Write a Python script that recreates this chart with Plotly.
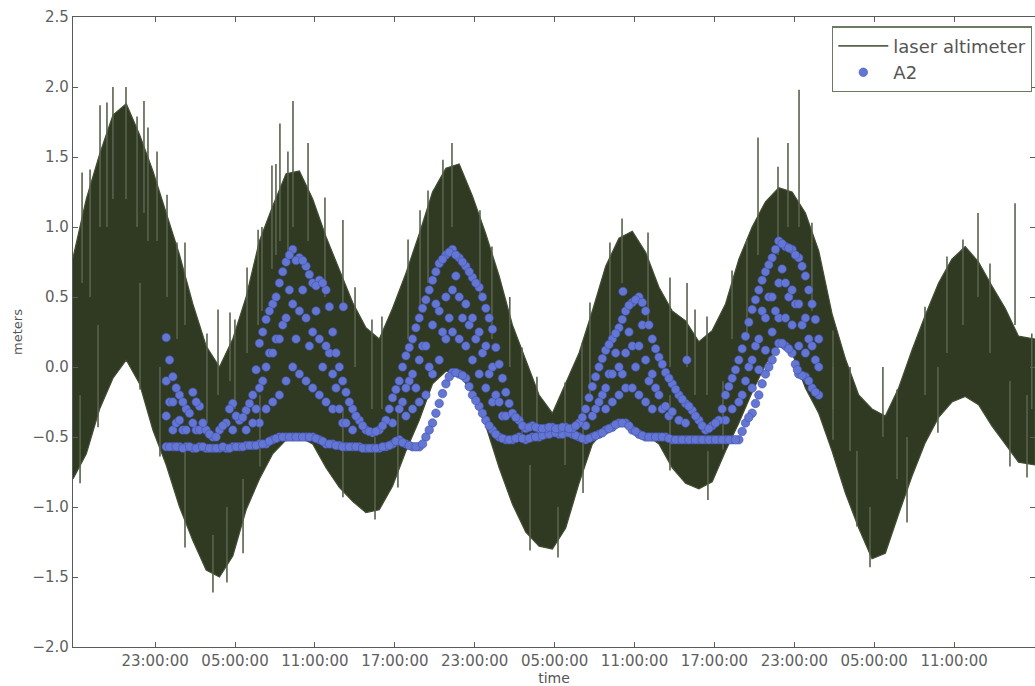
import pandas as pd
import plotly.graph_objects as go

START = pd.Timestamp("2014-06-01 16:50")
END_HOURS = 72.24

tick_times = ["2014-06-01 23:00", "2014-06-02 05:00", "2014-06-02 11:00",
              "2014-06-02 17:00", "2014-06-02 23:00", "2014-06-03 05:00",
              "2014-06-03 11:00", "2014-06-03 17:00", "2014-06-03 23:00",
              "2014-06-04 05:00", "2014-06-04 11:00"]

# ---- laser altimeter: envelope of the dense oscillation, read hourly ----
env_hours = [0, 1, 2, 3, 4, 5, 6, 7, 8, 9, 10, 11, 12, 13, 14, 15, 16, 17, 18, 19,
             20, 21, 22, 23, 24, 25, 26, 27, 28, 29, 30, 31, 32, 33, 34, 35, 36, 37,
             38, 39, 40, 41, 42, 43, 44, 45, 46, 47, 48, 49, 50, 51, 52, 53, 54, 55,
             56, 57, 58, 59, 60, 61, 62, 63, 64, 65, 66, 67, 68, 69, 70, 71, 72.24]
env_upper = [0.78, 1.2, 1.52, 1.8, 1.88, 1.66, 1.4, 1.1, 0.8, 0.45, 0.15, 0.0, 0.2, 0.5,
             0.9, 1.15, 1.38, 1.4, 1.2, 0.93, 0.7, 0.46, 0.28, 0.2, 0.42, 0.67, 0.95,
             1.25, 1.42, 1.45, 1.22, 0.95, 0.65, 0.3, 0.05, -0.2, -0.33, -0.12, 0.1,
             0.4, 0.72, 0.92, 0.97, 0.82, 0.57, 0.4, 0.33, 0.18, 0.26, 0.45, 0.77, 1.0,
             1.18, 1.28, 1.25, 1.1, 0.83, 0.38, 0.06, -0.2, -0.3, -0.35, -0.15, 0.12,
             0.37, 0.6, 0.77, 0.86, 0.75, 0.58, 0.42, 0.22, 0.2]
env_lower = [-0.8, -0.62, -0.3, -0.08, 0.05, -0.12, -0.45, -0.7, -1.0, -1.24, -1.45,
             -1.5, -1.35, -1.02, -0.8, -0.62, -0.52, -0.5, -0.55, -0.72, -0.86, -0.96,
             -1.04, -1.02, -0.85, -0.6, -0.38, -0.12, -0.03, -0.04, -0.2, -0.42, -0.72,
             -0.98, -1.18, -1.28, -1.3, -1.15, -0.83, -0.55, -0.44, -0.4, -0.44, -0.48,
             -0.55, -0.72, -0.83, -0.87, -0.82, -0.6, -0.4, -0.18, 0.02, 0.15, 0.1,
             -0.15, -0.33, -0.6, -0.9, -1.15, -1.37, -1.33, -1.05, -0.78, -0.54, -0.36,
             -0.25, -0.21, -0.27, -0.42, -0.55, -0.68, -0.7]

# individual strokes that stick out of the envelope (hour, top, bottom)
spike_hours = [0.68, 1.28, 2.03, 2.55, 3.0, 3.98, 4.81, 5.33, 5.63, 6.31, 7.06, 7.81,
               8.41, 10.06, 10.89, 11.79, 12.16, 13.07, 13.9, 14.19, 14.94, 15.24,
               15.54, 16.14, 16.52, 17.65, 18.92, 20.27, 21.18, 22.45, 23.2, 25.16,
               26.06, 26.66, 27.78, 28.46, 30.56, 31.46, 32.8, 33.72, 34.84, 36.95,
               38.22, 38.82, 40.32, 41.23, 43.18, 44.83, 46.11, 46.71, 47.61, 49.49,
               50.61, 51.44, 52.94, 53.69, 54.52, 55.49, 57.07, 58.35, 60.82, 61.88,
               63.98, 65.63, 66.83, 67.96, 68.86, 70.74, 72.0,
               0.53, 1.88, 5.03, 6.53, 8.41, 10.51, 11.56, 12.77, 14.04, 20.27, 22.68,
               24.4, 34.32, 36.42, 38.3, 44.83, 47.68, 48.81, 57.07, 58.87, 59.85,
               62.63, 64.95, 70.36, 71.64]
spike_top = [1.39, 1.41, 1.87, 1.89, 2.0, 2.0, 1.79, 1.9, 1.71, 1.54, 1.23, 0.89,
             0.89, 0.24, 0.41, 0.39, 0.34, 0.71, 0.98, 1.0, 1.44, 1.45,
             1.74, 1.54, 1.9, 1.6, 1.21, 1.05, 0.57, 0.34, 0.36, 0.91,
             1.12, 1.26, 1.48, 1.6, 1.12, 0.86, 0.5, 0.14, -0.07, -0.11,
             0.17, 0.46, 0.89, 1.06, 0.96, 0.64, 0.6, 0.41, 0.36, 0.69,
             0.91, 1.64, 1.43, 1.6, 1.98, 1.03, 0.26, 0.0, 0.0, -0.16,
             0.43, 0.79, 0.91, 1.1, 0.74, 1.17, 0.24,
             -0.2, 0.3, 0.6, 0.0, -0.6, -1.2, -1.0, -0.8, -0.2, -0.3, -0.5,
             -0.3, -0.7, -1.0, -0.3, -0.2, -0.6, -0.1, 0.0, -0.6, -1.0,
             -0.5, 0.0, -0.1, -0.2]
spike_bottom = [0.6, 0.5, 1.0, 1.0, 1.2, 1.2, 1.0, 1.1, 0.9, 0.9, 0.5, 0.2,
                0.3, -0.4, -0.2, -0.1, -0.3, 0.1, 0.3, 0.4, 0.7, 0.8,
                0.9, 0.8, 1.0, 0.9, 0.5, 0.4, 0.0, -0.3, -0.3, 0.2,
                0.4, 0.6, 0.8, 1.0, 0.5, 0.2, 0.0, -0.5, -0.5, -0.7,
                -0.4, -0.2, 0.2, 0.6, 0.3, 0.0, 0.0, -0.2, -0.2, 0.2,
                0.2, 0.8, 0.8, 1.0, 1.0, 0.4, -0.3, -0.6, -0.5, -0.8,
                -0.2, 0.1, 0.3, 0.5, 0.1, 0.3, -0.3,
                -0.83, -0.43, -0.16, -0.64, -1.29, -1.61, -1.54, -1.33, -0.71, -0.93, -1.09,
                -0.86, -1.31, -1.36, -0.9, -0.74, -0.95, -0.59, -0.52, -1.14, -1.43,
                -1.11, -0.47, -0.71, -0.79]

# ---- A2: columns of dots every half hour (top edge, inner rows, bottom edge) ----
a2_hours = [7.0, 7.5, 8.0, 8.5, 9.0, 9.5, 10.0, 10.5, 11.0, 11.5, 12.0, 12.5, 13.0,
            13.5, 14.0, 14.5, 15.0, 15.5, 16.0, 16.5, 17.0, 17.5, 18.0, 18.5, 19.0,
            19.5, 20.0, 20.5, 21.0, 21.5, 22.0, 22.5, 23.0, 23.5, 24.0, 24.5, 25.0,
            25.5, 26.0, 26.5, 27.0, 27.5, 28.0, 28.5, 29.0, 29.5, 30.0, 30.5, 31.0,
            31.5, 32.0, 32.5, 33.0, 33.5, 34.0, 34.5, 35.0, 35.5, 36.0, 36.5, 37.0,
            37.5, 38.0, 38.5, 39.0, 39.5, 40.0, 40.5, 41.0, 41.5, 42.0, 42.5, 43.0,
            43.5, 44.0, 44.5, 45.0, 45.5, 46.0, 46.5, 47.0, 47.5, 48.0, 48.5, 49.0,
            49.5, 50.0, 50.5, 51.0, 51.5, 52.0, 52.5, 53.0, 53.5, 54.0, 54.5, 55.0,
            55.5, 56.0]
a2_top = [0.21, -0.07, -0.2, -0.3, -0.18, -0.28, -0.45, -0.5, -0.45, -0.4, -0.26,
          -0.38, -0.31, -0.2, 0.17, 0.34, 0.45, 0.6, 0.75, 0.84, 0.78, 0.72, 0.6,
          0.62, 0.55, 0.25, 0.0, -0.18, -0.3, -0.38, -0.45, -0.47, -0.45, -0.38,
          -0.22, -0.1, 0.08, 0.2, 0.35, 0.48, 0.62, 0.74, 0.8, 0.84, 0.78, 0.72,
          0.64, 0.57, 0.42, 0.27, 0.02, -0.18, -0.33, -0.38, -0.44, -0.42, -0.44,
          -0.44, -0.43, -0.44, -0.43, -0.44, -0.4, -0.3, -0.14, 0.0, 0.12, 0.2,
          0.28, 0.4, 0.46, 0.5, 0.4, 0.2, 0.07, -0.04, -0.12, -0.2, -0.26, -0.31,
          -0.38, -0.45, -0.42, -0.38, -0.2, -0.08, 0.05, 0.22, 0.41, 0.55, 0.68,
          0.78, 0.9, 0.86, 0.84, 0.78, 0.65, 0.45, 0.2]
a2_q1 = [-0.1, -0.25, -0.38, -0.45, -0.4, -0.45, None, None, None, None, -0.45,
         None, -0.45, -0.4, -0.15, 0.0, 0.1, 0.2, 0.35, 0.45, 0.4, 0.35, 0.25,
         0.2, 0.15, -0.05, -0.3, -0.4, -0.45, None, None, None, None, None,
         -0.4, -0.3, -0.15, -0.05, 0.05, 0.15, 0.3, 0.4, 0.5, 0.55, 0.5, 0.45,
         0.35, 0.25, 0.15, 0.0, -0.25, -0.35, None, None, None, None, None,
         None, None, None, None, None, None, -0.42, -0.35, -0.25, -0.15, -0.05,
         0.0, 0.1, 0.15, 0.15, 0.05, -0.05, -0.2, -0.28, -0.32, -0.38, -0.4, None,
         None, None, None, None, -0.38, -0.3, -0.25, -0.1, 0.05, 0.2, 0.35,
         0.5, 0.6, 0.6, 0.55, 0.45, 0.35, 0.15, 0.0]
a2_q2 = [-0.35, -0.45, None, None, None, None, None, None, None, None, None,
         None, None, None, -0.4, -0.3, -0.25, -0.2, -0.1, 0.0, -0.05, -0.1, -0.15,
         -0.2, -0.25, -0.3, None, None, None, None, None, None, None, None,
         None, None, -0.35, -0.3, -0.25, -0.2, -0.05, 0.05, 0.2, 0.25, 0.2, 0.15,
         0.05, -0.05, -0.15, -0.25, None, None, None, None, None, None, None,
         None, None, None, None, None, None, None, None, None, -0.3, -0.25,
         -0.2, -0.15, -0.15, -0.2, -0.25, -0.3, None, None, None, None, None, None,
         None, None, None, None, None, None, None, None, -0.15, -0.02, 0.12,
         0.25, 0.35, 0.35, 0.3, 0.15, 0.1, None, None]
a2_bot = [-0.57, -0.57, -0.57, -0.57, -0.58, -0.57, -0.58, -0.58, -0.58, -0.58,
          -0.57, -0.57, -0.56, -0.56, -0.55, -0.55, -0.52, -0.5, -0.5, -0.5, -0.5,
          -0.5, -0.5, -0.52, -0.55, -0.55, -0.56, -0.57, -0.57, -0.57, -0.58,
          -0.58, -0.58, -0.57, -0.55, -0.52, -0.55, -0.57, -0.57, -0.5, -0.4,
          -0.26, -0.12, -0.04, -0.05, -0.08, -0.2, -0.28, -0.38, -0.45, -0.5,
          -0.52, -0.52, -0.5, -0.52, -0.5, -0.5, -0.48, -0.47, -0.48, -0.47,
          -0.48, -0.5, -0.52, -0.5, -0.48, -0.45, -0.43, -0.4, -0.4, -0.45, -0.48,
          -0.5, -0.5, -0.5, -0.5, -0.52, -0.52, -0.52, -0.52, -0.52, -0.52, -0.52,
          -0.52, -0.52, -0.52, -0.52, -0.4, -0.33, -0.2, -0.05, 0.05, 0.17, 0.15,
          0.1, -0.05, -0.07, -0.15, -0.2]

# in-between columns (quarter past / quarter to)
a2b_hours = [7.25, 7.75, 8.25, 8.75, 9.25, 9.75, 10.25, 10.75, 11.25, 11.75, 12.25,
             12.75, 13.25, 13.75, 14.25, 14.75, 15.25, 15.75, 16.25, 16.75, 17.25,
             17.75, 18.25, 18.75, 19.25, 19.75, 20.25, 20.75, 21.25, 21.75, 22.25,
             22.75, 23.25, 23.75, 24.25, 24.75, 25.25, 25.75, 26.25, 26.75, 27.25,
             27.75, 28.25, 28.75, 29.25, 29.75, 30.25, 30.75, 31.25, 31.75, 32.25,
             32.75, 33.25, 33.75, 34.25, 34.75, 35.25, 35.75, 36.25, 36.75, 37.25,
             37.75, 38.25, 38.75, 39.25, 39.75, 40.25, 40.75, 41.25, 41.75, 42.25,
             42.75, 43.25, 43.75, 44.25, 44.75, 45.25, 45.75, 46.25, 46.75, 47.25,
             47.75, 48.25, 48.75, 49.25, 49.75, 50.25, 50.75, 51.25, 51.75, 52.25,
             52.75, 53.25, 53.75, 54.25, 54.75, 55.25, 55.75]
a2b_top = [0.05, -0.15, -0.25, -0.33, -0.25, -0.4, -0.48, -0.5, -0.42, -0.3, -0.35,
           -0.36, -0.26, -0.02, 0.25, 0.4, 0.5, 0.68, 0.8, 0.76, 0.76,
           0.66, 0.58, 0.6, 0.43, 0.1, -0.1, -0.25, -0.35, -0.42, -0.46,
           -0.46, -0.42, -0.3, -0.16, 0.0, 0.14, 0.28, 0.42, 0.55, 0.68,
           0.77, 0.82, 0.8, 0.75, 0.68, 0.6, 0.5, 0.35, 0.14, -0.08,
           -0.26, -0.36, -0.42, -0.43, -0.43, -0.44, -0.43, -0.44, -0.43, -0.44,
           -0.42, -0.36, -0.22, -0.07, 0.06, 0.16, 0.24, 0.34, 0.44, 0.48,
           0.46, 0.3, 0.13, 0.02, -0.08, -0.16, -0.23, -0.28, -0.35, -0.42,
           -0.44, -0.4, -0.3, -0.14, -0.02, 0.13, 0.32, 0.48, 0.62, 0.73,
           0.84, 0.88, 0.85, 0.8, 0.72, 0.55, 0.34]
a2b_mid = [-0.25, -0.4, -0.45, None, -0.45, None, None, None, None, None, None,
           None, None, -0.3, -0.1, 0.1, 0.2, 0.3, 0.55, 0.2, 0.55,
           0.15, 0.4, 0.0, 0.1, -0.15, -0.4, None, None, None, None,
           None, None, None, None, -0.25, -0.1, -0.15, 0.15, 0.0, 0.45,
           0.25, 0.35, 0.65, 0.35, 0.3, 0.2, 0.1, -0.05, -0.2, -0.35,
           None, None, None, None, None, None, None, None, None, None,
           None, None, None, -0.3, -0.2, -0.05, 0.1, -0.05, 0.25, 0.0,
           0.3, -0.1, -0.15, -0.3, -0.35, None, None, None, None, None,
           None, None, None, None, None, -0.2, 0.0, 0.15, 0.4, 0.5,
           0.4, 0.7, 0.5, 0.45, 0.3, 0.2, 0.05]
a2b_bot = [-0.57, -0.57, -0.58, -0.57, -0.58, -0.57, -0.58, -0.58, -0.57, -0.58, -0.57,
           -0.57, -0.56, -0.56, -0.55, -0.53, -0.51, -0.5, -0.5, -0.5, -0.5,
           -0.5, -0.51, -0.53, -0.55, -0.56, -0.57, -0.57, -0.57, -0.58, -0.58,
           -0.58, -0.57, -0.56, -0.53, -0.54, -0.56, -0.57, -0.55, -0.45, -0.33,
           -0.19, -0.07, -0.04, -0.06, -0.14, -0.24, -0.33, -0.42, -0.48, -0.51,
           -0.52, -0.51, -0.51, -0.51, -0.5, -0.49, -0.48, -0.47, -0.48, -0.47,
           -0.49, -0.51, -0.51, -0.49, -0.47, -0.44, -0.41, -0.4, -0.42, -0.46,
           -0.49, -0.5, -0.5, -0.5, -0.51, -0.52, -0.52, -0.52, -0.52, -0.52,
           -0.52, -0.52, -0.52, -0.52, -0.52, -0.46, -0.36, -0.26, -0.12, 0.0,
           0.11, 0.17, 0.13, 0.02, -0.06, -0.1, -0.18]

a2_extra_hours = [20.3, 41.3, 46.1, 54.4]
a2_extra_vals = [0.43, 0.54, 0.05, -0.02]

for arr in (a2_top, a2_q1, a2_q2, a2_bot):
    assert len(arr) == len(a2_hours), len(arr)
for arr in (a2b_top, a2b_mid, a2b_bot):
    assert len(arr) == len(a2b_hours), len(arr)
assert len(env_upper) == len(env_hours) == len(env_lower)
assert len(spike_hours) == len(spike_top) == len(spike_bottom)


def t(h):
    return START + pd.Timedelta(hours=h)


band_x = [t(h) for h in env_hours] + [t(h) for h in reversed(env_hours)]
band_y = env_upper + list(reversed(env_lower))

spk_x, spk_y = [], []
for h, top, bot in zip(spike_hours, spike_top, spike_bottom):
    spk_x += [t(h), t(h), None]
    spk_y += [bot, top, None]

a2x, a2y = [], []
for hours, arr in ((a2_hours, a2_bot), (a2b_hours, a2b_bot), (a2_hours, a2_q2),
                   (a2b_hours, a2b_mid), (a2_hours, a2_q1), (a2_hours, a2_top),
                   (a2b_hours, a2b_top), (a2_extra_hours, a2_extra_vals)):
    for h, v in zip(hours, arr):
        if v is not None:
            a2x.append(t(h))
            a2y.append(v)

LINE = "rgb(66,78,50)"
FILL = "rgb(48,58,34)"

fig = go.Figure()
fig.add_trace(go.Scatter(x=band_x, y=band_y, fill="toself", fillcolor=FILL,
                         mode="lines", line=dict(color=LINE, width=1.2),
                         showlegend=False, hoverinfo="skip"))
fig.add_trace(go.Scatter(x=spk_x, y=spk_y, mode="lines", name="laser altimeter",
                         line=dict(color="rgb(88,98,76)", width=1.6)))
fig.add_trace(go.Scatter(x=a2x, y=a2y, mode="markers", name="A2",
                         marker=dict(size=8.5, color="rgb(100,118,212)",
                                     line=dict(color="rgb(66,80,168)", width=0.6))))

axis_common = dict(showline=True, linecolor="#5a5a5a", linewidth=1.2, mirror="ticks",
                   ticks="inside", ticklen=5, tickcolor="#5a5a5a", showgrid=False,
                   zeroline=False,
                   tickfont=dict(family="DejaVu Sans", size=15, color="#5f5f5f"))

fig.update_layout(
    width=1035, height=686,
    margin=dict(l=73, r=0, t=17, b=39),
    paper_bgcolor="white", plot_bgcolor="white",
    font=dict(family="DejaVu Sans", color="#555555"),
    xaxis=dict(axis_common, range=[t(0), t(END_HOURS)], type="date",
               tickmode="array", tickvals=tick_times, tickformat="%H:%M:%S",
               title=dict(text="time", standoff=2,
                          font=dict(family="DejaVu Sans", size=14, color="#555555"))),
    yaxis=dict(axis_common, range=[-2.0, 2.5], dtick=0.5, tickformat=".1f",
               title=dict(text="meters", standoff=6,
                          font=dict(family="DejaVu Sans", size=13, color="#555555"))),
    legend=dict(x=0.997, xanchor="right", y=0.985, yanchor="top",
                bgcolor="white", bordercolor="#6b7a62", borderwidth=1.2,
                font=dict(family="DejaVu Sans", size=18, color="#555555"),
                itemwidth=50),
)

fig.write_html("out.html")
